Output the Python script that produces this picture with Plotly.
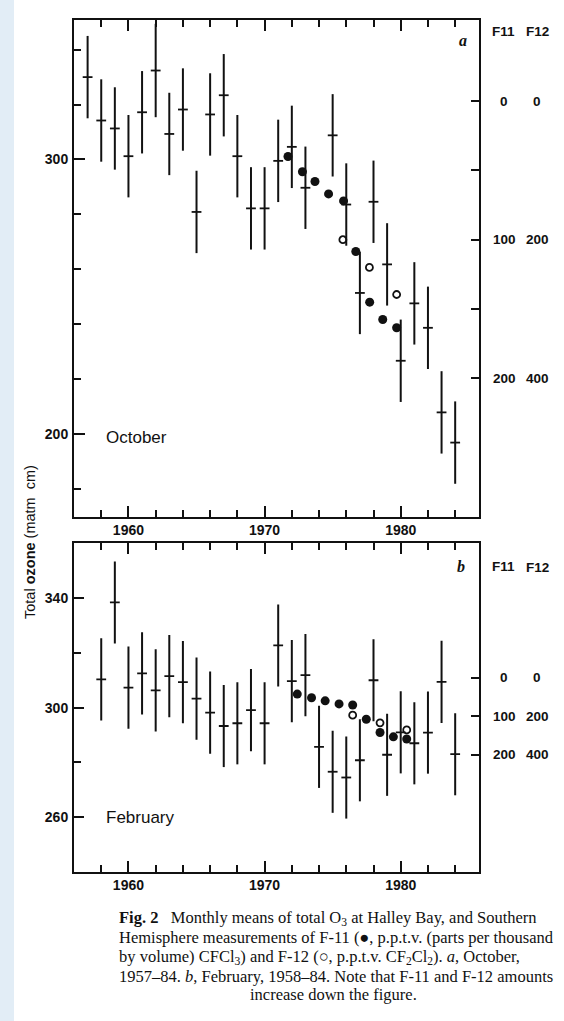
import plotly.graph_objects as go

# ---------------- data ----------------
oct_years = [1957, 1958, 1959, 1960, 1961, 1962, 1963, 1964, 1965, 1966, 1967, 1968, 1969,
             1970, 1971, 1972, 1973, 1975, 1976, 1977, 1978, 1979, 1980, 1981, 1982, 1983, 1984]
oct_ozone = [330, 314.2, 311.3, 301.2, 317.2, 332.4, 309.3, 318.2, 280.9, 316.4, 323.4, 301.2, 282.2,
             282.2, 299.5, 304.6, 289.7, 308.8, 283.6, 251.4, 284.6, 261.8, 226.7, 247.6, 238.7, 207.9, 196.9]
oct_err = [15, 15, 15, 15, 15, 17, 15, 15, 15, 15, 15, 15, 15,
           15, 15, 15, 15, 15, 15, 15, 15, 15, 15, 15, 15, 15, 15]

feb_years = [1958, 1959, 1960, 1961, 1962, 1963, 1964, 1965, 1966, 1967, 1968, 1969, 1970, 1971,
             1972, 1973, 1974, 1975, 1976, 1977, 1978, 1979, 1980, 1981, 1982, 1983, 1984]
feb_ozone = [310.3, 338.4, 307.3, 312.5, 306.3, 311.5, 309.3, 303.3, 298.2, 293.3, 294.3, 299.1, 294.3, 322.7,
             309.7, 311.9, 285.7, 276.6, 274.5, 280.8, 310.0, 282.8, 291.0, 287.0, 290.9, 309.4, 283.0]
feb_err = [15] * 27

oct_f11_x = [1971.72, 1972.78, 1973.7, 1974.7, 1975.8, 1976.7, 1977.72, 1978.68, 1979.7]
oct_f11 = [40, 51, 58, 67, 72, 108.5, 145, 157.5, 163.5]
oct_f12_x = [1975.75, 1977.7, 1979.7]
oct_f12 = [200, 240, 279]

feb_f11_x = [1972.4, 1973.45, 1974.45, 1975.47, 1976.47, 1977.47, 1978.48, 1979.46, 1980.44]
feb_f11 = [42.5, 52, 60, 68, 71, 108, 142.5, 154, 159.5]
feb_f12_x = [1976.47, 1978.48, 1980.44]
feb_f12 = [195, 235, 272]

f11_labels = [0, 100, 200]
f12_labels = [0, 200, 400]

# ---------------- layout helpers ----------------
W, H = 564, 1021
L, R, T, B = 74, 85, 20, 149
PW, PH = W - L - R, H - T - B


def px(x):
    return (x - L) / PW


def py(y):
    return (H - B - y) / PH


FONT = "Liberation Sans"
SERIF = "Liberation Serif"
BLACK = "#111111"

fig = go.Figure()


def ozone_trace(x, y, err, xa, ya):
    return go.Scatter(
        x=x, y=y, mode="markers", xaxis=xa, yaxis=ya, showlegend=False,
        marker=dict(symbol="line-ew", size=7, color=BLACK, line=dict(width=1.8, color=BLACK)),
        error_y=dict(type="data", array=err, visible=True, width=0, thickness=2, color=BLACK),
    )


fig.add_trace(ozone_trace(oct_years, oct_ozone, oct_err, "x", "y"))
fig.add_trace(ozone_trace(feb_years, feb_ozone, feb_err, "x2", "y4"))

filled = dict(symbol="circle", size=9, color=BLACK, line=dict(width=0))
opened = dict(symbol="circle-open", size=7, color=BLACK, line=dict(width=1.8, color=BLACK))
fig.add_trace(go.Scatter(x=oct_f11_x, y=oct_f11, mode="markers", marker=filled, xaxis="x", yaxis="y2", showlegend=False))
fig.add_trace(go.Scatter(x=oct_f12_x, y=oct_f12, mode="markers", marker=opened, xaxis="x", yaxis="y3", showlegend=False))
fig.add_trace(go.Scatter(x=feb_f11_x, y=feb_f11, mode="markers", marker=filled, xaxis="x2", yaxis="y5", showlegend=False))
fig.add_trace(go.Scatter(x=feb_f12_x, y=feb_f12, mode="markers", marker=opened, xaxis="x2", yaxis="y6", showlegend=False))

X_RANGE = [1956.0, 1985.75]
tickfont = dict(family=FONT, size=14, color=BLACK, weight="bold")


def xax(anchor):
    return dict(domain=[0, 1], anchor=anchor, range=X_RANGE, showline=True, linewidth=2, linecolor=BLACK,
                mirror="ticks", ticks="inside", ticklen=11, tickwidth=1.6, tickcolor=BLACK,
                tickmode="linear", tick0=1960, dtick=10, tickfont=tickfont, ticklabelstandoff=-1,
                minor=dict(ticks="inside", ticklen=7, tickwidth=1.6, tickcolor=BLACK, tick0=1956, dtick=2),
                showgrid=False, zeroline=False)


top_dom = [py(517), py(20)]
bot_dom = [0, py(543.3)]

fig.update_layout(
    width=W, height=H, margin=dict(l=L, r=R, t=T, b=B),
    paper_bgcolor="white", plot_bgcolor="white",
    xaxis=xax("y"),
    xaxis2=xax("y4"),
    yaxis=dict(domain=top_dom, anchor="x", range=[169.8, 350.8], showline=True, linewidth=2, linecolor=BLACK,
               ticks="inside", ticklen=11, tickwidth=1.6, tickcolor=BLACK, tickmode="linear", tick0=0, dtick=100,
               minor=dict(ticks="inside", ticklen=7, tickwidth=1.6, tickcolor=BLACK, tick0=0, dtick=20),
               tickfont=tickfont, showgrid=False, zeroline=False, ticklabelstandoff=1),
    yaxis2=dict(overlaying="y", anchor="x", side="right", range=[299.9, -58.4], showline=True, linewidth=2,
                linecolor=BLACK, ticks="inside", ticklen=8, tickwidth=1.6, tickcolor=BLACK,
                tickmode="array", tickvals=[0, 50, 100, 150, 200], showticklabels=False,
                showgrid=False, zeroline=False),
    yaxis3=dict(overlaying="y", anchor="x", range=[599.8, -116.8], visible=False),
    yaxis4=dict(domain=bot_dom, anchor="x2", range=[240, 360], showline=True, linewidth=2, linecolor=BLACK,
                ticks="inside", ticklen=10, tickwidth=1.6, tickcolor=BLACK, tickmode="linear", tick0=260, dtick=40,
                minor=dict(ticks="inside", ticklen=7, tickwidth=1.6, tickcolor=BLACK, tick0=240, dtick=20),
                tickfont=tickfont, showgrid=False, zeroline=False, ticklabelstandoff=1),
    yaxis5=dict(overlaying="y4", anchor="x2", side="right", range=[506.5, -350.9], showline=True, linewidth=2,
                linecolor=BLACK, ticks="inside", ticklen=8, tickwidth=1.6, tickcolor=BLACK,
                tickmode="array", tickvals=[0, 100, 200], showticklabels=False,
                showgrid=False, zeroline=False),
    yaxis6=dict(overlaying="y4", anchor="x2", range=[1013.0, -701.8], visible=False),
)

# left pale strip of the scanned page
fig.add_shape(type="rect", xref="paper", yref="paper", x0=px(0), x1=px(14), y0=py(H), y1=py(0),
              fillcolor="#e2edf6", line=dict(width=0), layer="below")

ann = []


def note(text, x, y, font, xanchor="center", yref="paper", yval=None, **kw):
    ann.append(dict(text=text, x=px(x), y=py(y) if yval is None else yval, xref="paper", yref=yref,
                    xanchor=xanchor, yanchor="middle", showarrow=False, font=font, **kw))


lab = dict(family=FONT, size=13.5, color=BLACK, weight="bold")
# right-hand F11 / F12 scales
for yref, ylab in (("y2", 31), ("y5", 566)):
    note("F11", 503, ylab, lab)
    note("F12", 537, ylab + 1, lab)
    for a, b in zip(f11_labels, f12_labels):
        note(str(a), 504, 0, lab, yref=yref, yval=a)
        note(str(b), 537, 0, lab, yref=yref, yval=a)

note("<i><b>a</b></i>", 463, 41, dict(family=SERIF, size=16, color=BLACK))
note("<i><b>b</b></i>", 461, 566, dict(family=SERIF, size=16, color=BLACK))
note("October", 104, 437, dict(family=FONT, size=17, color=BLACK), xanchor="left")
note("February", 104, 817, dict(family=FONT, size=17, color=BLACK), xanchor="left")
note("Total <b>ozone</b> (matm  cm)", 30, 542, dict(family=FONT, size=14.5, color=BLACK), textangle=-90)

cap = dict(family=SERIF, size=16.5, color=BLACK)
cap_lines = [
    "<b>Fig. 2</b>\u00a0\u00a0 Monthly means of total O<sub>3</sub> at Halley Bay, and Southern",
    "Hemisphere measurements of F-11 (\u25cf, p.p.t.v. (parts per thousand",
    "by volume) CFCl<sub>3</sub>) and F-12 (\u25cb, p.p.t.v. CF<sub>2</sub>Cl<sub>2</sub>). <i>a</i>, October,",
    "1957\u201384. <i>b</i>, February, 1958\u201384. Note that F-11 and F-12 amounts",
]
cap_y = [918, 938, 957, 976]
for t, yy in zip(cap_lines, cap_y):
    note(t, 117, yy, cap, xanchor="left")
note("increase down the figure.", 333, 995, cap)

fig.update_layout(annotations=ann)

fig.write_html("out.html", config={"displayModeBar": False},
               post_script="document.body.style.margin='0px';")
